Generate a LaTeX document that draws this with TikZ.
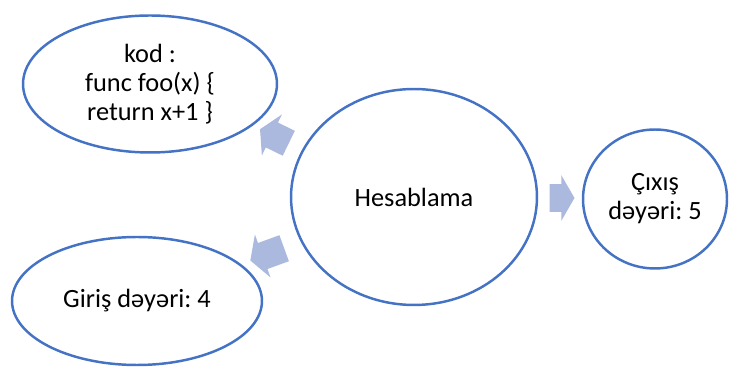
\documentclass[tikz,border=0pt]{standalone}
\usepackage{fontspec}
\setmainfont{Carlito}
\usepackage{tikz}
\usetikzlibrary{shapes.geometric, shapes.arrows}
\definecolor{kenar}{RGB}{68,114,196}
\definecolor{oxrengi}{RGB}{171,185,222}
\frenchspacing

\tikzset{
  oval/.style={ellipse, draw=kenar, line width=1.4pt, fill=white, inner sep=0pt,
    align=center, font=\fontsize{15}{16.5}\selectfont},
  blokox/.style={single arrow, fill=oxrengi, draw=none, inner xsep=0pt, inner ysep=0.27cm,
    single arrow head extend=0.18cm, single arrow tip angle=120}
}

\begin{document}
\begin{tikzpicture}[x=0.02cm, y=-0.02cm]
  \useasboundingbox (0,0) rectangle (730,367);
  % ellipslar
  \node[oval, minimum width=5.08cm, minimum height=2.74cm] (kod) at (150,84) {kod :\\func foo(x) \{\\return x+1 \}};
  \node[oval, minimum width=4.92cm, minimum height=4.32cm] (hesab) at (414,197) {Hesablama};
  \node[oval, minimum width=5.0cm, minimum height=2.56cm] (giris) at (137,301) {Giriş dəyəri: 4};
  \node[oval, minimum width=2.88cm, minimum height=2.78cm] (cixis) at (655,199) {Çıxış\\dəyəri: 5};
  % oxlar
  \node[blokox, minimum height=0.64cm, rotate=154] (ox1) at (278,138) {};
  \node[blokox, minimum height=0.72cm, rotate=200] (ox2) at (271,253) {};
  \node[blokox, minimum height=0.5cm] (ox3) at (558,198) {};
\end{tikzpicture}
\end{document}
